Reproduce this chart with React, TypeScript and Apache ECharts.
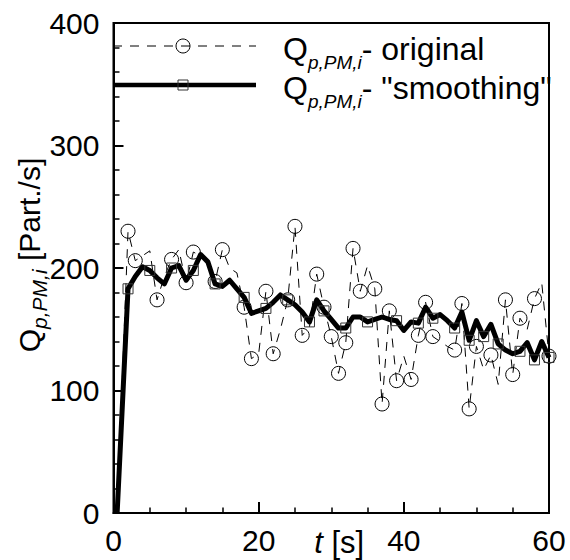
import React, { useEffect, useRef } from "react";
import * as echarts from "echarts";

// time [s]
const times = [
  0.5, 2, 3, 4, 5, 6, 7, 8, 9, 10, 11, 12, 13, 14, 15, 16, 17, 18, 19, 20,
  21, 22, 23, 24, 25, 26, 27, 28, 29, 30, 31, 32, 33, 34, 35, 36, 37, 38, 39, 40,
  41, 42, 43, 44, 45, 46, 47, 48, 49, 50, 51, 52, 53, 54, 55, 56, 57, 58, 59, 60,
];
// Q_p,PM,i original
const originalValues = [
  0, 230, 206, 210, 214, 174, 193, 207, 215, 188, 213, 210, 204, 189, 215, 200, 196, 168, 126, 130,
  181, 130, 150, 174, 234, 145, 152, 195, 168, 144, 114, 139, 216, 181, 202, 183, 89, 165, 108, 128,
  109, 145, 172, 144, 140, 136, 133, 171, 85, 136, 117, 129, 105, 174, 113, 159, 150, 175, 188, 128,
];
// Q_p,PM,i "smoothing"
const smoothValues = [
  0, 183, 193, 201, 198, 192, 187, 200, 202, 190, 198, 211, 205, 187, 185, 190, 183, 176, 163, 165,
  167, 172, 178, 174, 170, 164, 156, 174, 165, 158, 151, 151, 160, 160, 156, 158, 160, 158, 157, 149,
  156, 155, 168, 159, 162, 157, 151, 164, 141, 157, 144, 154, 138, 133, 130, 132, 139, 125, 140, 127,
];
// times at which a marker is drawn
const circleTimes = [
  2, 3, 6, 8, 10, 11, 14, 15, 18, 19, 21, 22, 24, 25, 26, 28, 29, 30, 31, 32, 33, 34,
  36, 37, 38, 39, 41, 42, 43, 44, 47, 48, 49, 50, 52, 54, 55, 56, 58, 60,
];
const squareTimes = [2, 5, 8, 11, 14, 18, 21, 24, 27, 29, 32, 35, 39, 42, 44, 47, 49, 51, 53, 56, 58, 60];

const seriesSubscript = "p,PM,i";
const legendLabels = ["- original", '- "smoothing"'];
const xName = ["t", " [s]"];
const yUnit = " [Part./s]";

const FONT = "'Liberation Sans', Arial, Helvetica, sans-serif";

export default function App() {
  const ref = useRef<HTMLDivElement>(null);

  useEffect(() => {
    if (!ref.current) return;
    const chart = echarts.init(ref.current, undefined, { renderer: "svg" });

    const origData = times.map((t, i) => ({
      value: [t, originalValues[i]],
      symbol: circleTimes.includes(t) ? "circle" : "none",
    }));
    const smoothData = times.map((t, i) => ({
      value: [t, smoothValues[i]],
      symbol: squareTimes.includes(t) ? "rect" : "none",
    }));

    const legendRich = {
      q: { fontSize: 32, fontFamily: FONT, fill: "#000", lineHeight: 46 },
      s: {
        fontSize: 19,
        fontFamily: FONT,
        fontStyle: "italic",
        fill: "#000",
        verticalAlign: "bottom",
        lineHeight: 22,
      },
    };

    chart.setOption({
      animation: false,
      grid: {
        left: 113.5,
        right: 21,
        top: 23,
        bottom: 47,
        show: true,
        borderColor: "#000",
        borderWidth: 2,
        backgroundColor: "transparent",
        outerBoundsMode: "none",
        containLabel: false,
      },
      xAxis: {
        type: "value",
        min: 0,
        max: 60,
        interval: 20,
        name: `{i|${xName[0]}}{n|${xName[1]}}`,
        nameLocation: "middle",
        nameGap: 14,
        nameMoveOverlap: false,
        nameTextStyle: {
          padding: [0, 0, 0, 16],
          rich: {
            i: { fontSize: 31, fontFamily: FONT, fontStyle: "italic", color: "#000", lineHeight: 31 },
            n: { fontSize: 31, fontFamily: FONT, color: "#000", lineHeight: 31 },
          },
        },
        axisLine: { show: true, lineStyle: { color: "#000", width: 2 } },
        axisTick: { show: true, inside: true, length: 11, lineStyle: { color: "#000", width: 2 } },
        minorTick: { show: true, splitNumber: 4, length: 5.5, lineStyle: { color: "#000", width: 1.5 } },
        splitLine: { show: false },
        minorSplitLine: { show: false },
        axisLabel: { fontSize: 30, fontFamily: FONT, color: "#000", margin: 12 },
      },
      yAxis: {
        type: "value",
        min: 0,
        max: 400,
        interval: 100,
        name: `{q|Q}{s|${seriesSubscript}}{q|${yUnit}}`,
        nameLocation: "middle",
        nameRotate: 90,
        nameGap: 64,
        nameMoveOverlap: false,
        nameTextStyle: {
          padding: [0, 0, 0, 26],
          rich: {
            q: { fontSize: 30, fontFamily: FONT, color: "#000", lineHeight: 40 },
            s: {
              fontSize: 21,
              fontFamily: FONT,
              fontStyle: "italic",
              color: "#000",
              verticalAlign: "bottom",
              lineHeight: 22,
            },
          },
        },
        axisLine: { show: true, lineStyle: { color: "#000", width: 2 } },
        axisTick: { show: true, inside: true, length: 10, lineStyle: { color: "#000", width: 2 } },
        minorTick: { show: true, splitNumber: 5, length: 6, lineStyle: { color: "#000", width: 1.5 } },
        splitLine: { show: false },
        minorSplitLine: { show: false },
        axisLabel: { fontSize: 30, fontFamily: FONT, color: "#000", margin: 14 },
      },
      series: [
        {
          name: "original",
          type: "line",
          data: origData,
          symbol: "circle",
          symbolSize: 14,
          showAllSymbol: true,
          lineStyle: { color: "#000", width: 1, type: [9, 8] },
          itemStyle: { color: "rgba(0,0,0,0)", borderColor: "#000", borderWidth: 1 },
          emphasis: { disabled: true },
          z: 2,
        },
        {
          name: "smoothing",
          type: "line",
          data: smoothData,
          symbol: "rect",
          symbolSize: 10,
          showAllSymbol: true,
          lineStyle: { color: "#000", width: 5, join: "round" },
          itemStyle: { color: "rgba(0,0,0,0)", borderColor: "#333", borderWidth: 1 },
          emphasis: { disabled: true },
          z: 3,
        },
      ],
      graphic: [
        {
          type: "line",
          shape: { x1: 113, y1: 46, x2: 256, y2: 46 },
          style: { stroke: "#000", lineWidth: 1, lineDash: [9, 8] },
          z: 10,
        },
        {
          type: "circle",
          shape: { cx: 183, cy: 46, r: 7 },
          style: { fill: "none", stroke: "#000", lineWidth: 1 },
          z: 10,
        },
        {
          type: "line",
          shape: { x1: 113, y1: 85, x2: 256, y2: 85 },
          style: { stroke: "#000", lineWidth: 4.5 },
          z: 10,
        },
        {
          type: "rect",
          shape: { x: 178, y: 80, width: 10, height: 10 },
          style: { fill: "none", stroke: "#333", lineWidth: 1 },
          z: 10,
        },
        {
          type: "text",
          x: 283,
          y: 49,
          style: {
            text: `{q|Q}{s|${seriesSubscript}}{q|${legendLabels[0]}}`,
            rich: legendRich,
            align: "left",
            verticalAlign: "middle",
            fill: "#000",
          },
          z: 10,
        },
        {
          type: "text",
          x: 283,
          y: 88,
          style: {
            text: `{q|Q}{s|${seriesSubscript}}{q|${legendLabels[1]}}`,
            rich: legendRich,
            align: "left",
            verticalAlign: "middle",
            fill: "#000",
          },
          z: 10,
        },
      ],
    });

    return () => chart.dispose();
  }, []);

  return (
    <div
      ref={ref}
      style={{ position: "fixed", left: 0, top: 0, width: 570, height: 560, background: "#fff" }}
    />
  );
}
